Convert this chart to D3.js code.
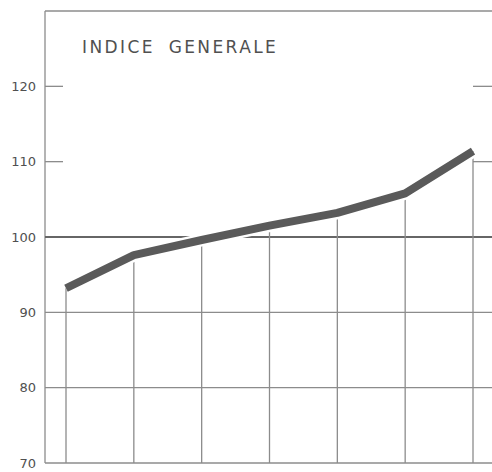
<!DOCTYPE html>
<html>
<head>
<meta charset="utf-8">
<script src="https://cdn.jsdelivr.net/npm/d3@7"></script>
<style>
  html, body { margin: 0; padding: 0; background: #fff; }
  svg { display: block; }
</style>
</head>
<body>
<svg id="chart" width="492" height="472"></svg>
<script>
// Index series, one value per period
const periods = ["P1", "P2", "P3", "P4", "P5", "P6", "P7"];
const indexValues = [93.2, 97.6, 99.6, 101.5, 103.2, 105.8, 111.4];

// Axis ticks
const yTicks = [70, 80, 90, 100, 110, 120];
const gridValues = [70, 80, 90];      // full-width horizontal rules
const shortTickValues = [110, 120];   // short marks on both edges
const baseValue = 100;                // reference level
const title = "INDICE GENERALE";

(function draw() {
  const svg = d3.select("#chart");
  const W = 492;

  const plotLeft = 45, plotTop = 11, plotBottom = 463, plotRight = W;

  const x = d3.scalePoint().domain(periods).range([66, 473]);
  const y = d3.scaleLinear().domain([70, 130]).range([plotBottom, plotTop]);

  const gridColor = "#8c8c8c";
  const inkColor = "#505050";

  // frame: left axis and top border
  svg.append("line")
    .attr("x1", plotLeft).attr("x2", plotLeft)
    .attr("y1", plotTop).attr("y2", plotBottom)
    .attr("stroke", gridColor).attr("stroke-width", 1.3);
  svg.append("line")
    .attr("x1", plotLeft).attr("x2", plotRight)
    .attr("y1", plotTop).attr("y2", plotTop)
    .attr("stroke", gridColor).attr("stroke-width", 1.3);

  // horizontal grid rules
  svg.append("g").selectAll("line")
    .data(gridValues).join("line")
    .attr("x1", plotLeft).attr("x2", plotRight)
    .attr("y1", d => y(d)).attr("y2", d => y(d))
    .attr("stroke", gridColor).attr("stroke-width", 1.3);

  // short marks at 110 and 120 on the left and right edges
  const lastX = x(periods[periods.length - 1]);
  svg.append("g").selectAll("line")
    .data(shortTickValues).join("line")
    .attr("x1", plotLeft).attr("x2", plotLeft + 18)
    .attr("y1", d => y(d)).attr("y2", d => y(d))
    .attr("stroke", gridColor).attr("stroke-width", 1.3);
  svg.append("g").selectAll("line")
    .data(shortTickValues).join("line")
    .attr("x1", lastX).attr("x2", plotRight)
    .attr("y1", d => y(d)).attr("y2", d => y(d))
    .attr("stroke", gridColor).attr("stroke-width", 1.3);

  // reference line at 100
  svg.append("line")
    .attr("x1", plotLeft).attr("x2", plotRight)
    .attr("y1", y(baseValue)).attr("y2", y(baseValue))
    .attr("stroke", "#666").attr("stroke-width", 1.8);

  // vertical drop lines from each point down to the base
  svg.append("g").selectAll("line")
    .data(periods).join("line")
    .attr("x1", d => x(d)).attr("x2", d => x(d))
    .attr("y1", (d, i) => y(indexValues[i])).attr("y2", plotBottom)
    .attr("stroke", gridColor).attr("stroke-width", 1.3);

  // y labels
  svg.append("g").selectAll("text")
    .data(yTicks).join("text")
    .attr("x", 36).attr("y", d => y(d))
    .attr("dy", "0.36em")
    .attr("text-anchor", "end")
    .attr("font-family", "'DejaVu Sans', sans-serif")
    .attr("font-size", 13)
    .attr("fill", inkColor)
    .text(d => d);

  // title
  svg.append("text")
    .attr("x", 82).attr("y", 53)
    .attr("font-family", "'DejaVu Sans', sans-serif")
    .attr("font-size", 17)
    .attr("letter-spacing", 2.4)
    .attr("word-spacing", 6)
    .attr("fill", inkColor)
    .text(title);

  // index line, with a white halo that interrupts the rules it crosses
  const line = d3.line()
    .x((d, i) => x(periods[i]))
    .y(d => y(d));

  svg.append("path")
    .datum(indexValues)
    .attr("d", line)
    .attr("fill", "none")
    .attr("stroke", "#fff")
    .attr("stroke-width", 13)
    .attr("stroke-linejoin", "round");

  svg.append("path")
    .datum(indexValues)
    .attr("d", line)
    .attr("fill", "none")
    .attr("stroke", "#5a5a5a")
    .attr("stroke-width", 8)
    .attr("stroke-linejoin", "round");
})();
</script>
</body>
</html>
